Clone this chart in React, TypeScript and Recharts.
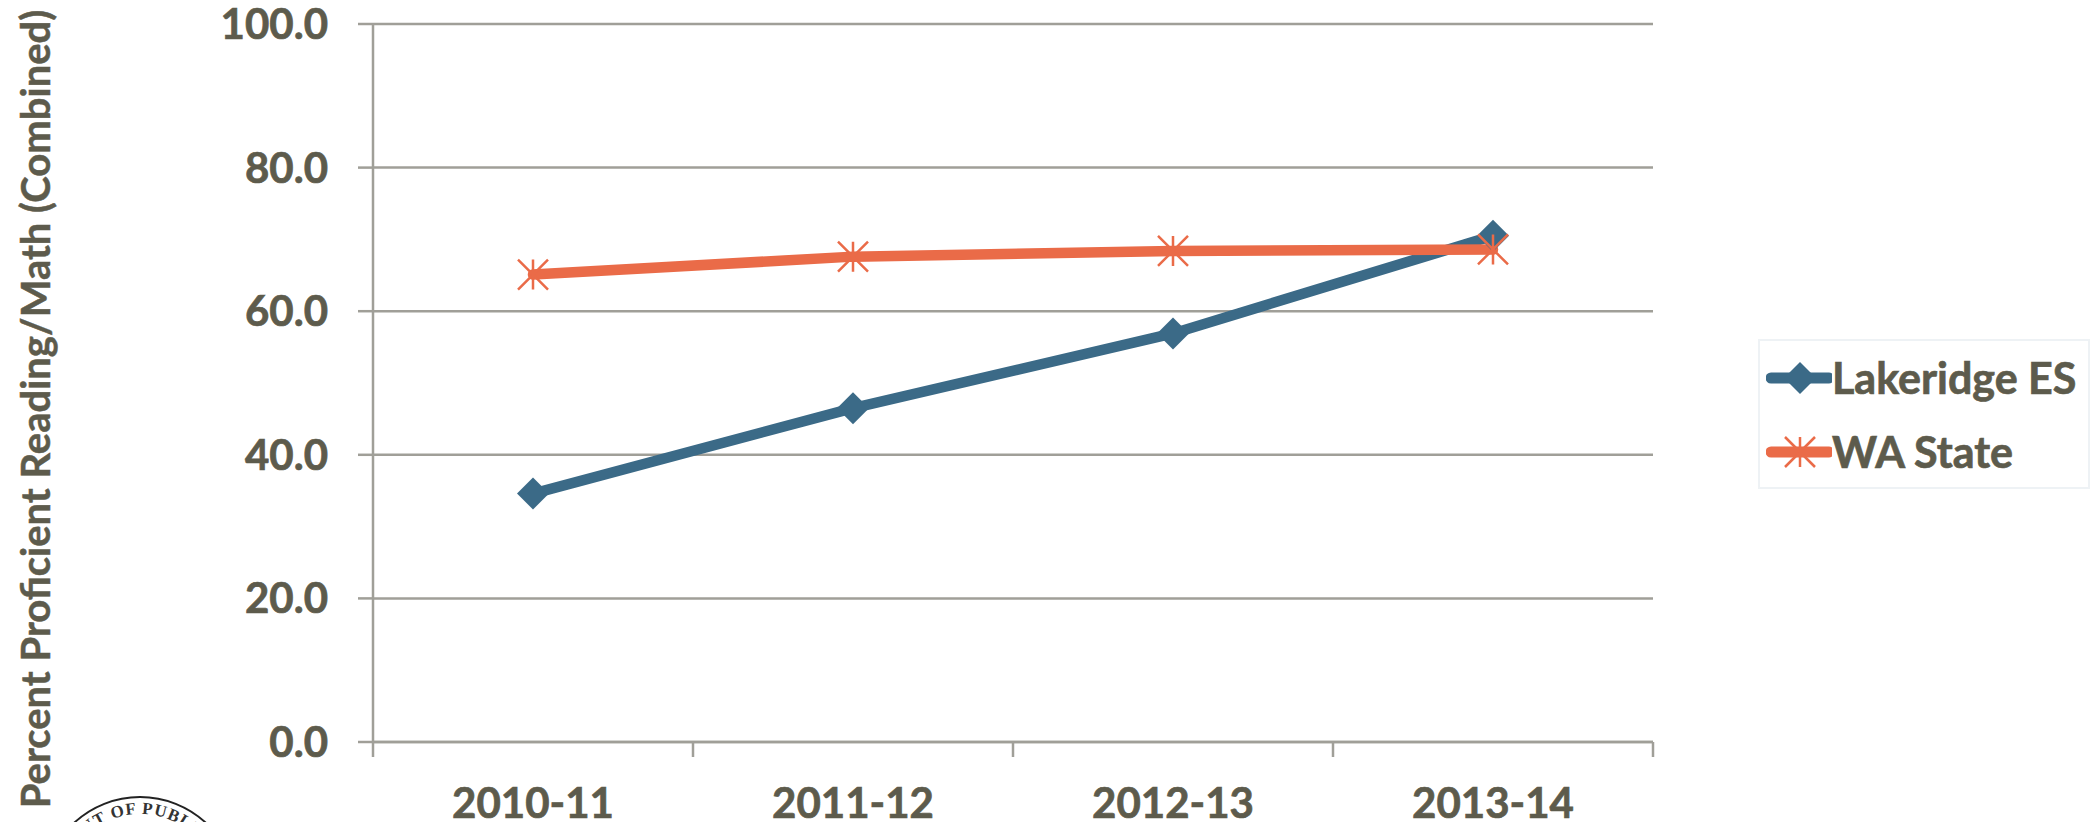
import { CartesianGrid, Legend, Line, LineChart, XAxis, YAxis } from 'recharts';

const years = ['2010-11', '2011-12', '2012-13', '2013-14'];
const lakeridge = [34.6, 46.5, 56.9, 70.5];
const waState = [65.1, 67.6, 68.4, 68.6];
const yTicks = [0, 20, 40, 60, 80, 100];

const data = years.map((year, i) => ({ year, lakeridge: lakeridge[i], waState: waState[i] }));

const BLUE = '#3b6a87';
const ORANGE = '#ea6b48';
const AXIS = '#a09f98';
const TEXT = '#5d5b4c';
const FONT = 'Lato, sans-serif';
const HALF_BAND = 160;

function Diamond({ cx, cy }: any) {
  const r = 16;
  return <path d={`M${cx} ${cy - r}L${cx + r} ${cy}L${cx} ${cy + r}L${cx - r} ${cy}Z`} fill={BLUE} />;
}

function Star({ cx, cy }: any) {
  const r = 15;
  return (
    <path
      d={`M${cx} ${cy - r}V${cy + r}M${cx - r} ${cy - r}L${cx + r} ${cy + r}M${cx - r} ${cy + r}L${cx + r} ${cy - r}`}
      stroke={ORANGE}
      strokeWidth={2.5}
      fill="none"
    />
  );
}

// labels sit mid-category, tick marks fall on the category boundaries
function YearTick({ x, y, payload, index }: any) {
  return (
    <g>
      {index === 0 && <line x1={x - HALF_BAND} x2={x - HALF_BAND} y1={742} y2={757} stroke={AXIS} strokeWidth={2.5} />}
      <line x1={x + HALF_BAND} x2={x + HALF_BAND} y1={742} y2={757} stroke={AXIS} strokeWidth={2.5} />
      <text x={x} y={818} textAnchor="middle" fontFamily={FONT} fontWeight={700} fontSize={42} fill={TEXT} stroke={TEXT} strokeWidth={0.7}>
        {payload.value}
      </text>
    </g>
  );
}

function LegendBox({ payload }: any) {
  return (
    <div style={{ width: 328, height: 146, border: '2px solid #eef2f5', boxSizing: 'content-box', position: 'relative' }}>
      {(payload || []).map((entry: any, i: number) => (
        <div key={entry.value} style={{ position: 'absolute', left: 6, top: 9 + i * 74, height: 56, display: 'flex', alignItems: 'center' }}>
          <svg width={66} height={56}>
            <line x1={5} x2={63} y1={28} y2={28} stroke={entry.color} strokeWidth={11} strokeLinecap="round" />
            {i === 0 ? <Diamond cx={34} cy={28} /> : <Star cx={34} cy={28} />}
          </svg>
          <span style={{ fontFamily: FONT, fontWeight: 700, fontSize: 43, color: TEXT, lineHeight: '56px', whiteSpace: 'nowrap', WebkitTextStroke: `0.7px ${TEXT}` }}>
            {entry.value}
          </span>
        </div>
      ))}
    </div>
  );
}

function Seal() {
  return (
    <svg width={180} height={42} style={{ position: 'absolute', left: 50, top: 780 }}>
      <defs>
        <path id="sealArc" d="M10 114A80 80 0 0 1 170 114" />
      </defs>
      <circle cx={90} cy={114} r={97} fill="none" stroke="#222" strokeWidth={2} />
      <text fontFamily="Liberation Serif, serif" fontWeight={700} fontSize={17} fill="#333" letterSpacing={1}>
        <textPath href="#sealArc" startOffset="50%" textAnchor="middle">
          NT OF PUBLI
        </textPath>
      </text>
    </svg>
  );
}

export default function App() {
  return (
    <div style={{ position: 'absolute', left: 0, top: 0, width: 2090, height: 822, overflow: 'hidden', background: '#fff' }}>
      <LineChart width={2090} height={822} data={data} margin={{ top: 24, right: 437, bottom: 0, left: 0 }}>
        <CartesianGrid vertical={false} stroke={AXIS} strokeWidth={2.5} />
        <XAxis
          dataKey="year"
          height={80}
          interval={0}
          padding={{ left: HALF_BAND, right: HALF_BAND }}
          axisLine={{ stroke: AXIS, strokeWidth: 2.5 }}
          tickLine={false}
          tick={<YearTick />}
        />
        <YAxis
          width={373}
          domain={[0, 100]}
          ticks={yTicks}
          tickFormatter={(v: number) => v.toFixed(1)}
          axisLine={{ stroke: AXIS, strokeWidth: 2.5 }}
          tickLine={{ stroke: AXIS, strokeWidth: 2.5 }}
          tickSize={15}
          tickMargin={30}
          tick={{ fontFamily: FONT, fontWeight: 700, fontSize: 42, fill: TEXT, stroke: TEXT, strokeWidth: 0.7 }}
          label={{
            value: 'Percent Proficient Reading/Math (Combined)',
            angle: -90,
            position: 'insideLeft',
            dx: 31,
            dy: 26,
            style: { fontFamily: FONT, fontWeight: 700, fontSize: 40, fill: TEXT, stroke: TEXT, strokeWidth: 0.5, textAnchor: 'middle' },
          }}
        />
        <Legend
          layout="vertical"
          align="center"
          verticalAlign="middle"
          content={<LegendBox />}
          wrapperStyle={{ position: 'absolute', left: 1758, top: 339, width: 332, bottom: 'auto', right: 'auto' }}
        />
        <Line
          name="Lakeridge ES"
          dataKey="lakeridge"
          stroke={BLUE}
          strokeWidth={10.5}
          strokeLinecap="round"
          dot={<Diamond />}
          activeDot={false}
          isAnimationActive={false}
        />
        <Line
          name="WA State"
          dataKey="waState"
          stroke={ORANGE}
          strokeWidth={10.5}
          strokeLinecap="round"
          dot={<Star />}
          activeDot={false}
          isAnimationActive={false}
        />
      </LineChart>
      <Seal />
    </div>
  );
}
